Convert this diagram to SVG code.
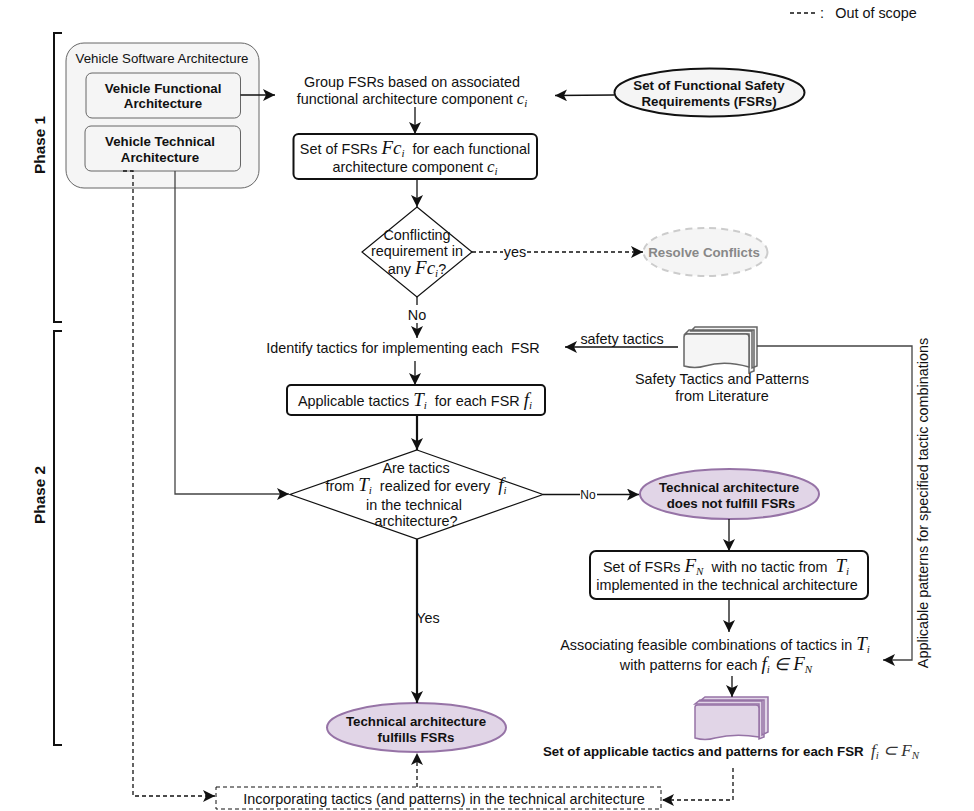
<svg xmlns="http://www.w3.org/2000/svg" width="974" height="811" viewBox="0 0 974 811">
<style>
text{font-family:"Liberation Sans",Arial,sans-serif;font-size:14.4px;fill:#111;text-anchor:middle}
.b{font-weight:bold;font-size:13.3px}
.p{font-weight:bold;font-size:15.300px}
.m{font-family:"Liberation Serif","Times New Roman",serif;font-style:italic;font-size:17px}
.l{font-family:"Liberation Serif","Times New Roman",serif;font-style:italic;font-size:19px}
.s{font-family:"Liberation Serif","Times New Roman",serif;font-style:italic;font-size:11px}
.n{font-weight:normal;fill:#333}
.c{fill:none;stroke:#111;stroke-width:1.3}
.t{stroke-width:2.2}
.g{stroke:#444}
.d{stroke-dasharray:4 3}
.box{fill:#fff;stroke:#111;stroke-width:2}
.in{fill:#f5f5f5;stroke:#666;stroke-width:1}
.dia{fill:#fff;stroke:#111;stroke-width:1.2}
.pur{fill:#e1d5e7;stroke:#9673a6;stroke-width:2}
.br{fill:none;stroke:#111;stroke-width:2}
</style>
<defs>
<marker id="a" markerUnits="userSpaceOnUse" markerWidth="14" markerHeight="14" refX="12" refY="6" orient="auto"><path d="M0 0L12 6L0 12L3 6Z" fill="#111"/></marker>
</defs>
<g id="legend"><path class="c d" d="M790 13H818" stroke-width="1"/><text x="822" y="18">:</text><text x="876" y="18">Out of scope</text></g>
<g id="phase-1"><path class="br" d="M62 33H54V322H62"/><text class="p" transform="translate(45 145) rotate(-90)">Phase 1</text></g>
<g id="phase-2"><path class="br" d="M62 331H54V745H62"/><text class="p" transform="translate(45 495) rotate(-90)">Phase 2</text></g>
<g id="vehicle-software"><rect x="66" y="43" width="193" height="145" rx="18" class="in"/><text x="162" y="63" style="font-size:13.300px">Vehicle Software Architecture</text></g>
<g id="functional"><rect x="86" y="73" width="154.500" height="45" rx="6" class="in"/><text class="b" x="163" y="93">Vehicle Functional</text><text class="b" x="163" y="108">Architecture</text></g>
<g id="technical"><rect x="85" y="126" width="155.500" height="45" rx="6" class="in"/><text class="b" x="160" y="146">Vehicle Technical</text><text class="b" x="160" y="162">Architecture</text></g>
<g id="group-fsrs"><text x="412" y="87">Group FSRs based on associated</text><text x="412" y="104">functional architecture component <tspan class="m">c</tspan><tspan class="s" dy="3">i</tspan></text></g>
<g id="fsr-set"><ellipse cx="709.500" cy="92.500" rx="95" ry="24" fill="#f5f5f5" stroke="#111" stroke-width="2"/><text class="b" x="709" y="90">Set of Functional Safety</text><text class="b" x="709" y="106">Requirements (FSRs)</text></g>
<g id="fsrs-per-component"><rect x="293.500" y="134" width="243.500" height="45" rx="5" class="box"/><text x="415" y="154">Set of FSRs <tspan class="l">Fc</tspan><tspan class="s" dy="3">i</tspan><tspan dy="-3">&#160; for each functional</tspan></text><text x="415" y="172">architecture component <tspan class="m">c</tspan><tspan class="s" dy="3">i</tspan></text></g>
<g id="conflict-decision"><path class="dia" d="M417 207L472 252L417 297L362 252Z"/><text x="417" y="240">Conflicting</text><text x="417" y="256">requirement in</text><text x="417" y="274">any <tspan class="l">Fc</tspan><tspan class="s" dy="3">i</tspan><tspan dy="-3">?</tspan></text></g>
<g id="resolve"><ellipse cx="705.500" cy="252" rx="62" ry="24" fill="#f5f5f5" stroke="#ccc" stroke-width="2" stroke-dasharray="7 5"/><text x="704" y="257" class="b" style="fill:#888">Resolve Conflicts</text></g>
<g id="identify"><text x="403" y="353">Identify tactics for implementing each&#160; FSR</text></g>
<g id="literature"><path d="M695 327H757V366L752 368V331H691Z M689 330H754V371L749 373V334H685Z" fill="#f5f5f5" stroke="#666" stroke-width="1.500"/><path d="M684 337Q684 334 687 334H746Q749 334 749 337V367Q725 360 705 366Q695 369 684 366Z" fill="#f5f5f5" stroke="#666" stroke-width="1.500"/><text x="722" y="384">Safety Tactics and Patterns</text><text x="722" y="401">from Literature</text></g>
<g id="applicable-tactics"><rect x="287" y="385" width="258" height="30" rx="4" class="box"/><text x="415" y="406">Applicable tactics <tspan class="l">T</tspan><tspan class="s" dy="3">i</tspan><tspan dy="-3">&#160; for each FSR </tspan><tspan class="l">f</tspan><tspan class="s" dy="3">i</tspan></text></g>
<g id="realized-decision"><path class="dia" d="M417 450L543 494.500L417 539L290 494.500Z"/><text x="416" y="473">Are tactics</text><text x="416" y="491">from <tspan class="l">T</tspan><tspan class="s" dy="3">i</tspan><tspan dy="-3">&#160; realized for every&#160; </tspan><tspan class="l">f</tspan><tspan class="s" dy="3">i</tspan></text><text x="414" y="510">in the technical</text><text x="416" y="526">architecture?</text></g>
<g id="not-fulfilled"><ellipse cx="729.500" cy="494" rx="89.500" ry="25" class="pur"/><text class="b" x="729" y="492">Technical architecture</text><text class="b" x="731" y="508">does not fulfill FSRs</text></g>
<g id="fsrs-no-tactic"><rect x="590" y="551" width="278" height="48" rx="6" class="box"/><text x="726" y="572">Set of FSRs <tspan class="l">F</tspan><tspan class="s" dy="3">N</tspan><tspan dy="-3">&#160; with no tactic from&#160; </tspan><tspan class="l">T</tspan><tspan class="s" dy="3">i</tspan></text><text x="727" y="590">implemented in the technical architecture</text></g>
<g id="associating"><text x="715" y="650">Associating feasible combinations of tactics in <tspan class="l">T</tspan><tspan class="s" dy="3">i</tspan></text><text x="716" y="670">with patterns for each <tspan class="l">f</tspan><tspan class="s" dy="3">i</tspan><tspan class="m" dy="-3">&#160;∈&#160;</tspan><tspan class="l">F</tspan><tspan class="s" dy="3">N</tspan></text></g>
<g id="applicable-set"><path d="M705 697H768V732L762 735V701H700Z M700 700H764V737L759 739V704H695Z" fill="#e1d5e7" stroke="#9673a6" stroke-width="1.500"/><path d="M695 707Q695 705 698 705H756Q759 705 759 708V737Q735 733 715 738Q705 741 695 738Z" fill="#e1d5e7" stroke="#9673a6" stroke-width="1.500"/><text class="b" x="731" y="756">Set of applicable tactics and patterns for each FSR&#160; <tspan class="m n">f</tspan><tspan class="s n" dy="3">i</tspan><tspan class="m n" dy="-3">&#160;⊂&#160;F</tspan><tspan class="s n" dy="3">N</tspan></text></g>
<g id="fulfilled"><ellipse cx="416.500" cy="727.500" rx="89.500" ry="24.500" class="pur"/><text class="b" x="416" y="726">Technical architecture</text><text class="b" x="416" y="742">fulfills FSRs</text></g>
<g id="incorporating"><rect x="216" y="787" width="445" height="22" fill="#fff" stroke="#111" stroke-width="1" stroke-dasharray="4 3"/><text x="444" y="804">Incorporating tactics (and patterns) in the technical architecture</text></g>
<g id="connectors">
<path class="c" d="M240.500 95H275" marker-end="url(#a)"/>
<path class="c" d="M614 95L555 95.500" marker-end="url(#a)"/>
<path class="c" d="M415 107V134" marker-end="url(#a)"/>
<path class="c" d="M417 180V207" marker-end="url(#a)"/>
<path class="c" d="M417 297V305"/><path class="c" d="M417 323V338" marker-end="url(#a)"/>
<path class="c d" d="M472 252H503"/><path class="c d" d="M527 252H643" marker-end="url(#a)"/>
<path class="c" d="M678 347H565" marker-end="url(#a)"/>
<path class="c" d="M415 361V385" marker-end="url(#a)"/>
<path class="c t" d="M417 416V450" marker-end="url(#a)"/>
<path class="c g" d="M175 171V494H289" marker-end="url(#a)"/>
<path class="c d" d="M123 171H133V796H215" marker-end="url(#a)"/>
<path class="c" d="M543 494.500H580"/><path class="c" d="M597 494.500H639" marker-end="url(#a)"/>
<path class="c t" d="M417 539V703" marker-end="url(#a)"/>
<path class="c" d="M729 519V551" marker-end="url(#a)"/>
<path class="c" d="M729 600V632" marker-end="url(#a)"/>
<path class="c" d="M732 676V697" marker-end="url(#a)"/>
<path class="c g" d="M757 346H912V660H883" marker-end="url(#a)"/>
<path class="c d" d="M733 768V800H662" marker-end="url(#a)"/>
<path class="c d" d="M417 787V753" marker-end="url(#a)"/>
<text x="515" y="257">yes</text><text x="417" y="320">No</text><text x="588" y="499" style="font-size:12px">No</text><text x="428" y="623">Yes</text><text x="622" y="344">safety tactics</text>
<text transform="translate(928 503) rotate(-90)">Applicable patterns for specified tactic combinations</text>
</g>
</svg>
